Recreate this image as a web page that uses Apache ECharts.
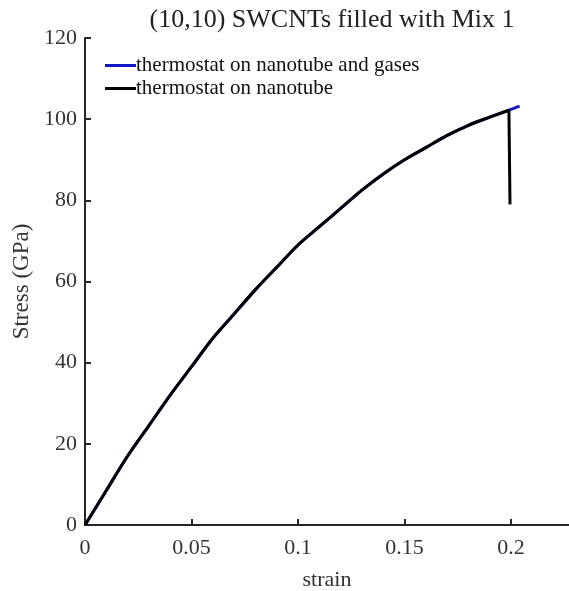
<!DOCTYPE html>
<html><head><meta charset="utf-8">
<script src="https://cdn.jsdelivr.net/npm/echarts@6/dist/echarts.min.js"></script>
<style>html,body{margin:0;padding:0;background:#fff}#c{width:569px;height:591px}</style>
</head><body><div id="c"></div>
<script>
const titleText = "(10,10) SWCNTs filled with Mix 1";
const seriesNames = ["thermostat on nanotube and gases", "thermostat on nanotube"];
const strainA = [0, 0.01, 0.02, 0.03, 0.04, 0.05, 0.06, 0.07, 0.08, 0.09, 0.10, 0.11, 0.12, 0.13, 0.14, 0.15, 0.16, 0.17, 0.18, 0.19, 0.199, 0.204];
const stressA = [0, 8.5, 17, 24.5, 32, 39, 46, 52, 58, 63.5, 69, 73.5, 78, 82.5, 86.5, 90, 93, 96, 98.5, 100.5, 102.2, 103.2];
const strainB = [0, 0.01, 0.02, 0.03, 0.04, 0.05, 0.06, 0.07, 0.08, 0.09, 0.10, 0.11, 0.12, 0.13, 0.14, 0.15, 0.16, 0.17, 0.18, 0.19, 0.199];
const stressB = [0, 8.5, 17, 24.5, 32, 39, 46, 52, 58, 63.5, 69, 73.5, 78, 82.5, 86.5, 90, 93, 96, 98.5, 100.5, 102.2];
const strainBreak = [0.199, 0.1995];
const stressBreak = [102.2, 79];
const xTicks = [0, 0.05, 0.1, 0.15, 0.2];
const yTicks = [0, 20, 40, 60, 80, 100, 120];

const font = "'Liberation Serif', 'Times New Roman', serif";
const ax = '#262626';
const chart = echarts.init(document.getElementById('c'));
chart.setOption({
  animation: false,
  backgroundColor: '#fff',
  title: { text: titleText, left: 327, textAlign: 'center', top: 2,
    textStyle: { fontFamily: font, fontSize: 26, fontWeight: 'normal', color: '#222' } },
  legend: { orient: 'vertical', left: 105, top: 55, padding: 0, itemWidth: 31, itemHeight: 3, itemGap: 2,
    icon: 'rect', data: seriesNames,
    textStyle: { fontFamily: font, fontSize: 21, color: '#111', padding: [0,0,0,-5] } },
  grid: { left: 85, top: 38, right: 0, bottom: 66, containLabel: false, outerBoundsMode: 'none' },
  xAxis: { type: 'value', min: 0, max: 0.2272, interval: 0.05,
    name: 'strain', nameLocation: 'middle', nameGap: 44,
    nameTextStyle: { fontFamily: font, fontSize: 22, color: '#333' },
    axisLine: { show: true, lineStyle: { color: ax, width: 2 } },
    axisTick: { show: true, inside: true, length: 6, lineStyle: { color: ax, width: 2 } },
    axisLabel: { fontFamily: font, fontSize: 22, color: '#333', margin: 12, showMaxLabel: false,
      formatter: v => xTicks.includes(+v.toFixed(2)) ? String(+v.toFixed(2)) : '' },
    splitLine: { show: false } },
  yAxis: { type: 'value', min: 0, max: 120, interval: 20,
    name: 'Stress (GPa)', nameLocation: 'middle', nameGap: 50, nameRotate: 90,
    nameTextStyle: { fontFamily: font, fontSize: 23, color: '#333' },
    axisLine: { show: true, lineStyle: { color: ax, width: 2 } },
    axisTick: { show: true, inside: true, length: 6, lineStyle: { color: ax, width: 2 } },
    axisLabel: { fontFamily: font, fontSize: 22, color: '#333', margin: 8,
      formatter: v => yTicks.includes(v) ? String(v) : '' },
    splitLine: { show: false } },
  series: [
    { name: seriesNames[0], type: 'line', smooth: 0.3, showSymbol: false, symbol: 'none', color: '#1515c8',
      lineStyle: { width: 3, color: '#1515c8' }, data: strainA.map((x, i) => [x, stressA[i]]), z: 2 },
    { name: seriesNames[1], type: 'line', smooth: 0.3, showSymbol: false, symbol: 'none', color: '#000',
      lineStyle: { width: 3, color: '#000' }, data: strainB.map((x, i) => [x, stressB[i]]), z: 3 },
    { name: seriesNames[1], type: 'line', showSymbol: false, symbol: 'none', color: '#000',
      lineStyle: { width: 3, color: '#000' }, data: strainBreak.map((x, i) => [x, stressBreak[i]]), z: 3 }
  ]
});
</script></body></html>
